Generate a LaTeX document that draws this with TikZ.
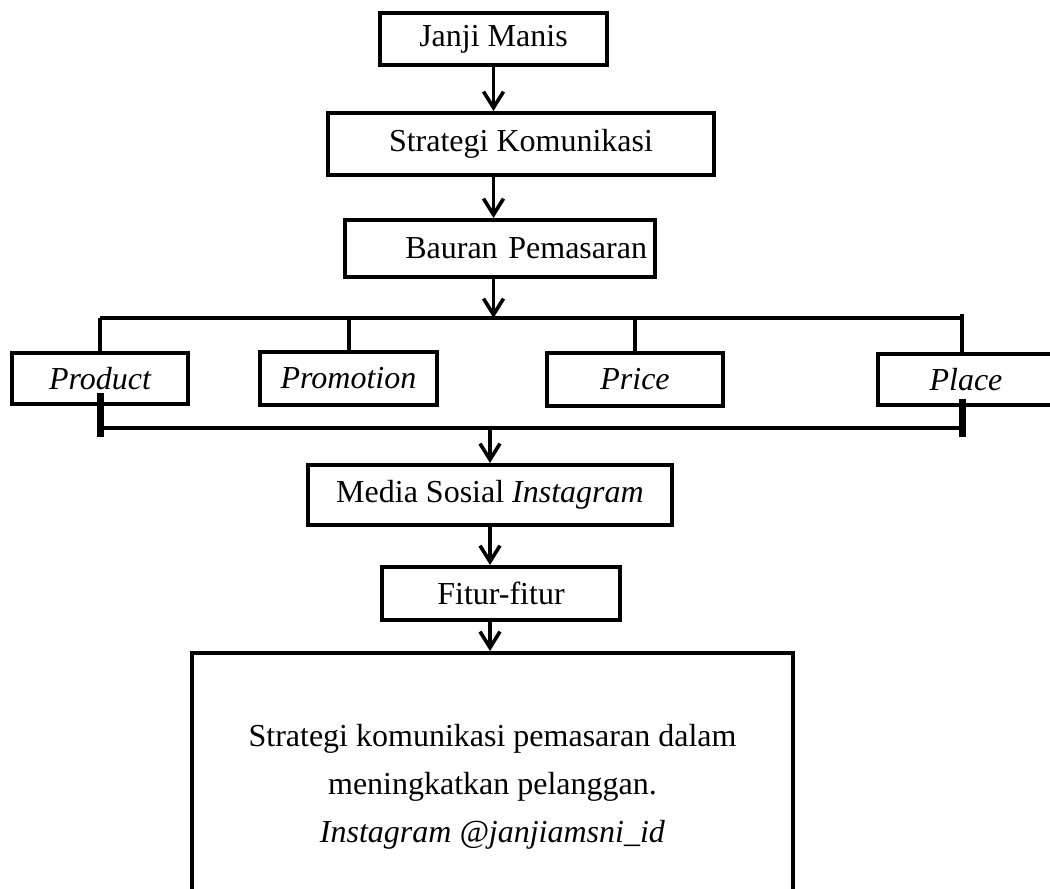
\documentclass[tikz,border=0pt]{standalone}
\usepackage{fontspec}
\setmainfont{Liberation Serif}
\usepackage{tikz}
\usetikzlibrary{arrows.meta}
\usetikzlibrary{positioning}

\begin{document}
\begin{tikzpicture}
    [
    x=0.5pt, y=-0.5pt,
    font=\fontsize{16}{24}\selectfont,
    box/.style={rectangle,draw,line width=2pt,inner sep=4pt},
    link/.style={line width=1.8pt,-{Straight Barb[length=8pt,width=10pt,line width=1.8pt]}},
    bar/.style={line width=2pt},
    stub/.style={line width=3.5pt},
    ]
    \useasboundingbox (0,0) rectangle (1050,889);
    \clip (0,0) rectangle (1050,889);

    \node (janji) at (493.5,39) [box, minimum width=113.5pt, minimum height=26pt] {Janji Manis};
    \node (strategi) at (521,144) [box, minimum width=193pt, minimum height=31pt] {Strategi Komunikasi};
    \node (bauran) at (500,248.5) [box, minimum height=28.5pt, text width=147pt, align=right] {Bauran Pemasaran};
    \draw [link] (janji.south) to (janji.south |- strategi.north);
    \draw [link] (janji.south |- strategi.south) to (janji.south |- bauran.north);

    \node (product) at (100,378.5) [box, minimum width=88pt, minimum height=25.5pt] {\itshape Product};
    \node (promotion) at (348.5,378.5) [box, minimum width=88.5pt, minimum height=26.5pt] {\itshape Promotion};
    \node (price) at (635,379.5) [box, minimum width=88pt, minimum height=26.5pt] {\itshape Price};
    \node (place) at (966,379.5) [box, minimum width=88pt, minimum height=25.5pt] {\itshape Place};

    \coordinate (tl) at (100,318);
    \coordinate (tr) at (962,318);
    \coordinate (bl) at (100,428);
    \coordinate (br) at (962,428);
    \draw [link] (janji.south |- bauran.south) to (janji.south |- tl);
    \draw [bar] (tl) to (tr);
    \draw [bar] (tl) to (product.north);
    \draw [bar] (promotion.north |- tl) to (promotion.north);
    \draw [bar] (price.north |- tl) to (price.north);
    \draw [bar] (962,314) to (962,354);

    \draw [bar] (bl) to (br);
    \coordinate (bltop) at (100,393);
    \coordinate (blbot) at (100,437);
    \coordinate (brtop) at (962,399);
    \coordinate (brbot) at (962,437);
    \draw [stub] (bltop) to (blbot);
    \draw [stub] (brtop) to (brbot);

    \node (media) at (490,495) [box, minimum width=182pt, minimum height=30pt] {Media Sosial \textit{Instagram}};
    \node (fitur) at (501,593.5) [box, minimum width=119pt, minimum height=26.5pt] {Fitur-fitur};
    \node (result) at (492.5,787) [box, minimum width=300.5pt, minimum height=134pt, align=center]
      {Strategi komunikasi pemasaran dalam\\ meningkatkan pelanggan.\\ \textit{Instagram @janjiamsni\_id}};
    \draw [link] (media.north |- bl) to (media.north);
    \draw [link] (media.south) to (media.south |- fitur.north);
    \draw [link] (media.south |- fitur.south) to (media.south |- result.north);
  \end{tikzpicture}
\end{document}
